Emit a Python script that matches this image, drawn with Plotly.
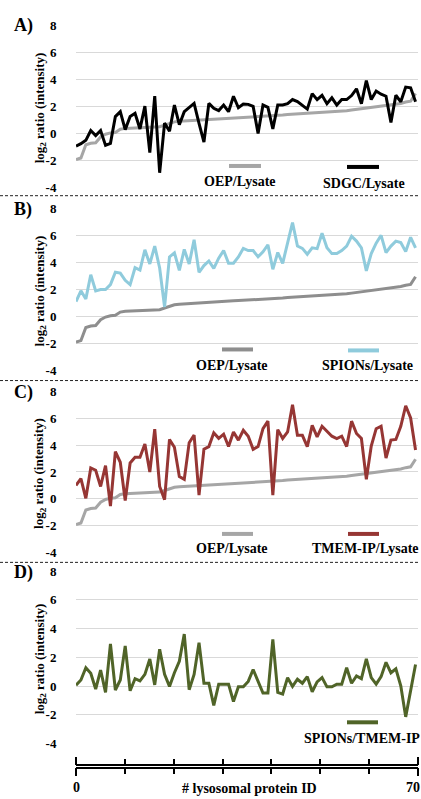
import plotly.graph_objects as go

W, H = 421, 799

# ---------------- data ----------------
protein_ids = list(range(70))

oep_lysate = [-1.92, -1.8, -0.83, -0.72, -0.68, -0.25, -0.05, 0.05, 0.08, 0.32,
              0.38, 0.4, 0.42, 0.43, 0.44, 0.45, 0.47, 0.5, 0.62, 0.72,
              0.86, 0.9, 0.92, 0.93, 0.95, 0.97, 1.0, 1.03, 1.07, 1.1,
              1.12, 1.14, 1.16, 1.18, 1.2, 1.21, 1.22, 1.23, 1.24, 1.25,
              1.27, 1.3, 1.36, 1.4, 1.42, 1.44, 1.46, 1.48, 1.5, 1.51,
              1.53, 1.55, 1.57, 1.6, 1.64, 1.68, 1.73, 1.78, 1.82, 1.86,
              1.9, 1.95, 2.0, 2.07, 2.12, 2.16, 2.22, 2.32, 2.38, 2.95]

sdgc_lysate = [-0.92, -0.75, -0.5, 0.22, -0.15, 0.22, -0.87, -0.72, 1.25, 1.61,
               0.29, 1.25, 1.49, 0.34, 2.02, -1.4, 2.75, -2.89, 0.77, 0.17,
               2.1, 0.65, 1.61, 1.9, 2.22, 0.75, -0.63, 2.22, 1.86, 1.69,
               2.1, 1.61, 2.75, 1.9, 2.17, 2.15, 2.0, 0.0, 2.1, 1.93,
               0.34, 2.1, 2.1, 2.2, 2.5, 2.35, 2.1, 1.8, 2.94, 2.5,
               2.82, 2.2, 2.63, 2.1, 2.5, 2.5, 2.8, 3.3, 2.2, 3.9,
               2.5, 3.13, 2.9, 2.75, 0.82, 2.82, 2.34, 3.42, 3.37, 2.34]

spions_lysate = [1.1, 1.9, 1.3, 3.1, 1.9, 2.0, 2.0, 2.36, 3.28, 3.22,
                 2.68, 2.36, 3.62, 3.45, 4.95, 3.9, 5.23, 3.6, 0.7, 4.42,
                 4.73, 3.42, 4.98, 3.9, 5.7, 3.28, 3.78, 4.12, 3.57, 4.33,
                 4.9, 3.95, 3.95, 4.42, 5.06, 4.9, 4.9, 4.43, 4.8, 5.33,
                 3.5, 4.75, 3.95, 5.45, 6.98, 5.23, 5.06, 4.62, 5.1, 5.04,
                 6.18, 5.1, 4.67, 4.67, 4.9, 5.23, 5.96, 5.6, 5.1, 3.38,
                 4.67, 5.45, 6.03, 4.74, 5.23, 5.6, 5.5, 4.82, 5.88, 5.1]

tmem_ip_lysate = [1.0, 1.5, 0.04, 2.3, 2.13, 0.92, 2.47, -0.54, 3.52, 2.72,
                  -0.13, 2.67, 3.1, 3.1, 4.08, 1.99, 5.18, 0.92, -0.06, 4.42,
                  3.84, 1.65, 1.45, 4.18, 4.74, 0.28, 3.7, 3.89, 4.91, 4.5,
                  4.81, 3.89, 4.98, 4.37, 5.1, 4.66, 3.69, 3.89, 5.22, 5.78,
                  0.28, 5.15, 4.49, 4.98, 7.0, 4.73, 4.73, 3.89, 5.47, 4.61,
                  5.4, 5.05, 4.66, 4.49, 4.66, 3.89, 5.78, 4.86, 4.49, 1.45,
                  3.93, 5.22, 5.4, 3.04, 4.37, 4.42, 5.4, 6.93, 6.02, 3.64]

spions_tmem_ip = [0.07, 0.43, 1.28, 0.89, -0.2, 1.12, -0.43, 2.94, -0.27, 0.43,
                  2.8, -0.32, 0.52, 0.36, 0.82, 1.89, 0.09, 2.57, 0.82, -0.02,
                  0.93, 1.73, 3.62, -0.25, 0.82, 3.03, 0.2, 0.2, -1.34, 0.14,
                  0.14, 0.14, -1.07, -0.05, -0.05, 0.33, 1.16, 0.36, -0.48, -0.48,
                  3.26, -0.43, -0.55, 0.59, -0.02, 0.48, 0.2, 0.66, -0.39, 0.3,
                  0.59, -0.05, -0.05, 0.14, 0.14, 1.28, 0.2, 0.71, 0.52, 1.89,
                  0.59, 0.14, 0.66, 1.66, 0.93, 1.21, 0.02, -2.14, -0.3, 1.5]

ytick_vals = [-4, -2, 0, 2, 4, 6, 8]
ytick_text = ["-4", "-2", "0", "2", "4", "6", "8"]
bottom_tick_vals = [0, 10, 20, 30, 40, 50, 60, 70]
bottom_tick_labels = ["0", "70"]

panel_letters = ["A)", "B)", "C)", "D)"]
legend_labels = [["OEP/Lysate", "SDGC/Lysate"],
                 ["OEP/Lysate", "SPIONs/Lysate"],
                 ["OEP/Lysate", "TMEM-IP/Lysate"],
                 ["SPIONs/TMEM-IP"]]

# ---------------- styles ----------------
GREY_A = "#a6a6a6"
GREY_B = "#8e8e8e"
BLACK = "#000000"
BLUE = "#8fcbdc"
RED = "#963634"
GREEN = "#506428"
FONT = "Liberation Serif"


def X(px):
    return px / W


def Y(py):
    return 1 - py / H


x_dom = [X(76), X(418)]
# panel pixel spans (top of 8, bottom of -4)
panel_px = [(18.3, 184.3), (205.7, 370.1), (391.7, 556.0), (575.0, 750.7)]

fig = go.Figure()

series = [
    [(oep_lysate, GREY_A), (sdgc_lysate, BLACK)],
    [(oep_lysate, GREY_B), (spions_lysate, BLUE)],
    [(oep_lysate, GREY_A), (tmem_ip_lysate, RED)],
    [(spions_tmem_ip, GREEN)],
]

for i, lst in enumerate(series):
    suffix = "" if i == 0 else str(i + 1)
    for vals, col in lst:
        fig.add_trace(go.Scatter(
            x=protein_ids, y=vals, mode="lines",
            line=dict(color=col, width=3),
            xaxis="x" + suffix, yaxis="y" + suffix,
            hoverinfo="skip", showlegend=False,
        ))
    top, bot = panel_px[i]
    fig.layout["xaxis" + suffix] = dict(
        domain=x_dom, range=[0, 69.5], visible=False, anchor="y" + suffix,
    )
    fig.layout["yaxis" + suffix] = dict(
        domain=[Y(bot), Y(top)], range=[-4, 8], anchor="x" + suffix,
        tickvals=ytick_vals, ticktext=ytick_text,
        showgrid=True, gridcolor="#d9d9d9", gridwidth=1,
        zeroline=False, showline=False,
        ticks="outside", ticklen=16, tickwidth=1, tickcolor="white",
        tickfont=dict(family=FONT, size=13, color="black", weight="bold"),
    )

# bottom decorative axis
fig.add_trace(go.Scatter(x=[None], y=[None], xaxis="x5", yaxis="y5",
                         showlegend=False, hoverinfo="skip"))
fig.add_trace(go.Scatter(x=[None], y=[None], xaxis="x6", yaxis="y5",
                         showlegend=False, hoverinfo="skip"))
fig.layout["xaxis5"] = dict(
    domain=x_dom, range=[0, 70], anchor="y5",
    tickvals=bottom_tick_vals, showticklabels=False,
    ticks="outside", ticklen=5, tickwidth=2, tickcolor="black",
    showline=True, linewidth=2, linecolor="black", mirror="ticks",
    showgrid=False, zeroline=False,
)
fig.layout["xaxis6"] = dict(
    domain=x_dom, range=[0, 70], anchor="y5", overlaying="x5",
    tickvals=[bottom_tick_vals[0], bottom_tick_vals[-1]], showticklabels=False,
    ticks="outside", ticklen=8, tickwidth=2, tickcolor="black",
    showline=False, mirror="ticks", showgrid=False, zeroline=False,
)
fig.layout["yaxis5"] = dict(domain=[Y(774.4), Y(773.6)], visible=False,
                            range=[0, 1], anchor="x5")

annotations = []
shapes = []

# panel letters and y titles
for i, (top, bot) in enumerate(panel_px):
    annotations.append(dict(
        text="<b>" + panel_letters[i] + "</b>", x=X(23), y=Y(top + 1),
        xref="paper", yref="paper", showarrow=False,
        xanchor="center", yanchor="middle",
        font=dict(family=FONT, size=18, color="black"),
    ))
    annotations.append(dict(
        text="<b>log<sub>2</sub> ratio (intensity)</b>", x=X(40),
        y=Y((top + bot) / 2 + 2), xref="paper", yref="paper",
        showarrow=False, textangle=-90, xanchor="center", yanchor="middle",
        font=dict(family=FONT, size=13, color="black"),
    ))

# legends: swatches + labels
legend_specs = [
    [((229, 261, 162), GREY_A, (240, 178)), ((347, 379, 163), BLACK, (364, 180))],
    [((222, 253, 349), GREY_B, (232, 365)), ((348, 379, 350), BLUE, (367, 365))],
    [((222, 253, 537), GREY_A, (232, 552)), ((348, 379, 537), RED, (365, 552))],
    [((347, 378, 729), GREEN, (362, 745))],
]
for i, specs in enumerate(legend_specs):
    for j, ((sx0, sx1, sy), col, (tx, ty)) in enumerate(specs):
        shapes.append(dict(type="line", xref="paper", yref="paper",
                           x0=X(sx0), x1=X(sx1), y0=Y(sy), y1=Y(sy),
                           line=dict(color=col, width=4)))
        annotations.append(dict(
            text="<b>" + legend_labels[i][j] + "</b>", x=X(tx), y=Y(ty),
            xref="paper", yref="paper", showarrow=False,
            xanchor="center", yanchor="middle",
            font=dict(family=FONT, size=14, color="black"),
        ))

# dashed separators
for py in [192.3, 380.7, 566.0]:
    shapes.append(dict(type="line", xref="paper", yref="paper",
                       x0=0, x1=X(418), y0=Y(py), y1=Y(py),
                       line=dict(color="#222222", width=1, dash="3px,2px")))

# bottom axis labels
annotations.append(dict(text="<b>" + bottom_tick_labels[0] + "</b>", x=0, y=Y(786),
                        xref="x5", yref="paper", showarrow=False,
                        xanchor="center", yanchor="top",
                        font=dict(family=FONT, size=14, color="black")))
annotations.append(dict(text="<b>" + bottom_tick_labels[1] + "</b>", x=70, y=Y(786),
                        xref="x5", yref="paper", showarrow=False,
                        xanchor="right", yanchor="top", xshift=4,
                        font=dict(family=FONT, size=14, color="black")))
annotations.append(dict(text="<b># lysosomal protein ID</b>", x=X(249), y=Y(787),
                        xref="paper", yref="paper", showarrow=False,
                        xanchor="center", yanchor="top",
                        font=dict(family=FONT, size=14, color="black")))

fig.update_layout(
    width=W, height=H,
    margin=dict(l=0, r=0, t=0, b=0),
    paper_bgcolor="white", plot_bgcolor="white",
    showlegend=False,
    annotations=annotations, shapes=shapes,
)

fig.write_html(
    "out.html",
    config={"displayModeBar": False},
    post_script="document.body.style.margin='0';document.body.style.padding='0';"
                "document.body.style.overflow='hidden';"
                "document.documentElement.style.overflow='hidden';",
)
